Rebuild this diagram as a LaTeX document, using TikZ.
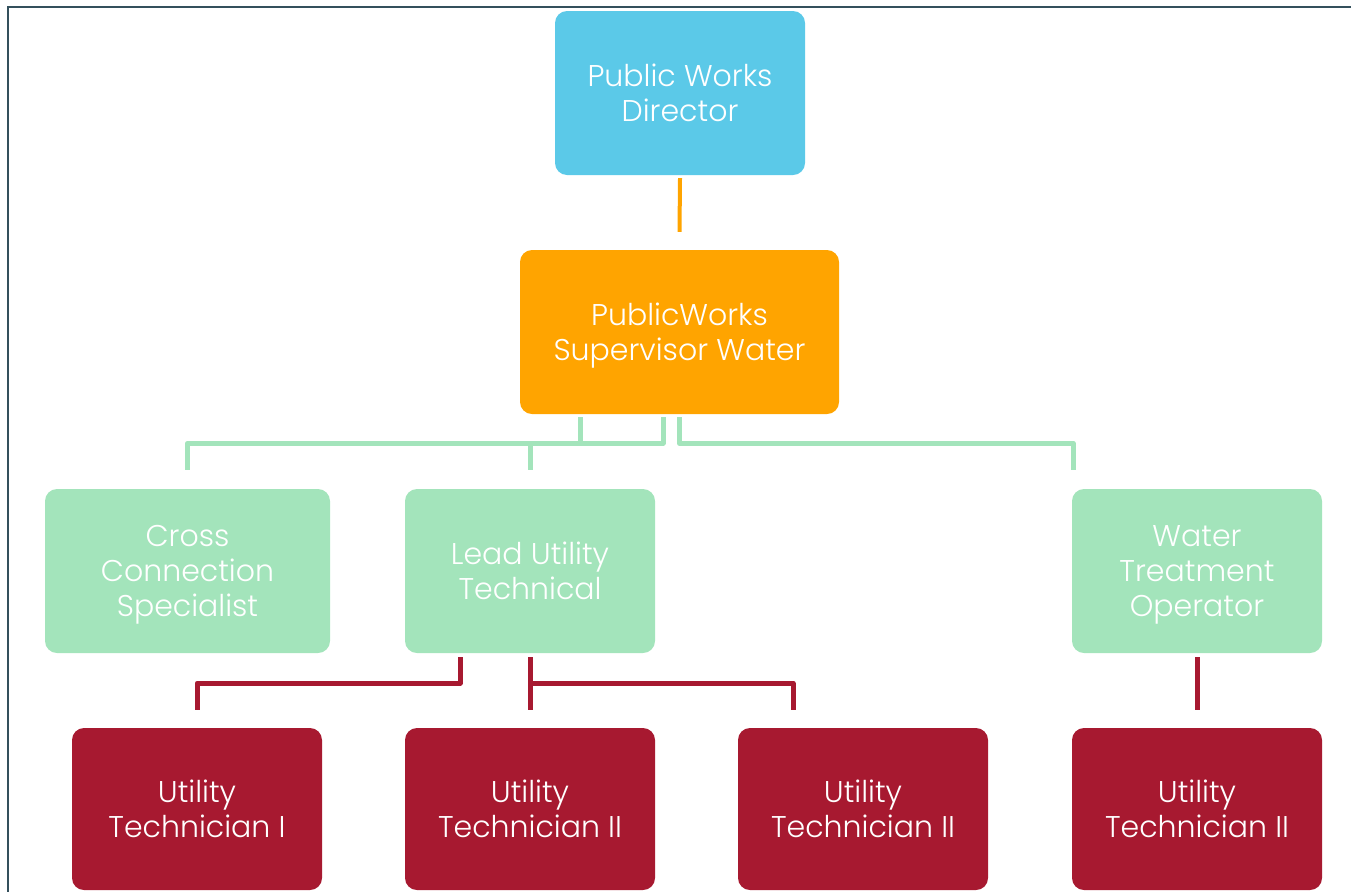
\documentclass[tikz,border=0pt]{standalone}
\usepackage{fontspec}
\setmainfont{Poppins Light}
\usetikzlibrary{calc}
\definecolor{cblue}{HTML}{5BC9E8}
\definecolor{corange}{HTML}{FFA400}
\definecolor{cgreen}{HTML}{A3E4BB}
\definecolor{cred}{HTML}{A71930}
\definecolor{cframe}{HTML}{34505C}
\tikzset{
  box/.style={rectangle, rounded corners=12pt, draw=none, text=white, align=center,
    minimum width=250pt, minimum height=164pt, inner sep=0pt, text depth=0pt,
    font=\fontsize{30}{35}\selectfont},
  gline/.style={draw=cgreen, line width=5pt, line join=round},
  rline/.style={draw=cred, line width=5pt, line join=round},
  oline/.style={draw=corange, line width=4pt},
}
\begin{document}
\begin{tikzpicture}[x=1pt,y=-1pt]
\useasboundingbox (0,0) rectangle (1351,892);
\draw[cframe, line width=2.5pt] (1351,7) -- (8,7) -- (8,892);
% nodes
\node[box, fill=cblue] (dir) at (680,93) {Public Works\\Director};
\node[box, fill=corange, minimum width=319pt] (sup) at (679.5,332) {PublicWorks\\Supervisor Water};
\node[box, fill=cgreen, minimum width=285pt] (ccs) at (187.5,571) {Cross\\Connection\\Specialist};
\node[box, fill=cgreen] (lut) at (530,571) {Lead Utility\\Technical};
\node[box, fill=cgreen] (wto) at (1197,571) {Water\\Treatment\\Operator};
\node[box, fill=cred, minimum height=162pt] (ut1) at (197,809) {Utility\\Technician I};
\node[box, fill=cred, minimum height=162pt] (ut2) at (530,809) {Utility\\Technician II};
\node[box, fill=cred, minimum height=162pt] (ut3) at (863,809) {Utility\\Technician II};
\node[box, fill=cred, minimum height=162pt] (ut4) at (1197,809) {Utility\\Technician II};
% orange connector
\draw[oline] ($(dir.south)+(0,3)$) -- ($(sup.north)+(0,-18)$);
% green connectors
\coordinate (g1) at ($(sup.south)+(-99,3)$);
\coordinate (g2) at ($(sup.south)+(-16.5,3)$);
\coordinate (g3) at ($(sup.south)+(0,3)$);
\draw[gline] (g1) -- ++(0,26) -| ($(ccs.north)+(0,-19)$);
\draw[gline] (g2) -- ++(0,26) -| ($(lut.north)+(0,-19)$);
\draw[gline] (g3) -- ++(0,26) -| ($(wto.north west)+(1.5,-19)$);
% red connectors
\coordinate (r1) at ($(lut.south)+(-70,4)$);
\coordinate (r2) at ($(lut.south)+(0,4)$);
\draw[rline] (r1) -- ++(0,26) -| ($(ut1.north)+(0,-18)$);
\draw[rline] (r2) -- ($(ut2.north)+(0,-18)$);
\draw[rline] ($(r2)+(0,26)$) -| ($(ut3.north)+(-70,-18)$);
\draw[rline] ($(wto.south)+(0,4)$) -- ($(ut4.north)+(0,-18)$);
\end{tikzpicture}
\end{document}
